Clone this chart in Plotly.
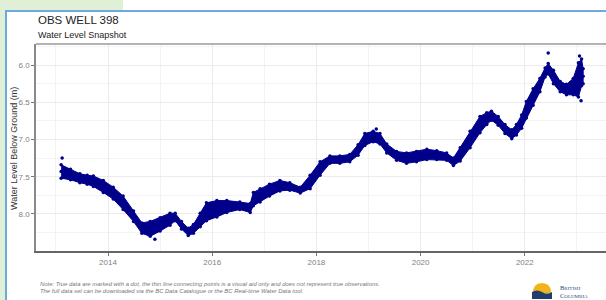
import plotly.graph_objects as go

# ---------------- data ----------------
years = [2013.10, 2013.28, 2013.46, 2013.60, 2013.72, 2013.91, 2014.10, 2014.29, 2014.49, 2014.65,
         2014.81, 2015.00, 2015.19, 2015.29, 2015.41, 2015.54, 2015.64, 2015.77, 2015.89, 2016.09,
         2016.28, 2016.53, 2016.73, 2016.79, 2016.92, 2017.10, 2017.30, 2017.49, 2017.69, 2017.88,
         2018.07, 2018.26, 2018.45, 2018.64, 2018.80, 2018.93, 2019.09, 2019.22, 2019.35, 2019.54,
         2019.73, 2019.92, 2020.12, 2020.31, 2020.50, 2020.63, 2020.76, 2020.95, 2021.14, 2021.27,
         2021.36, 2021.49, 2021.62, 2021.75, 2021.84, 2021.94, 2022.03, 2022.16, 2022.29, 2022.39,
         2022.45, 2022.55, 2022.68, 2022.80, 2022.93, 2023.03, 2023.09, 2023.12]
level_mid = [7.43, 7.47, 7.52, 7.54, 7.56, 7.63, 7.72, 7.85, 8.03, 8.19,
             8.20, 8.14, 8.07, 8.04, 8.15, 8.24, 8.20, 8.08, 7.97, 7.93,
             7.90, 7.89, 7.92, 7.80, 7.75, 7.68, 7.62, 7.63, 7.68, 7.57,
             7.39, 7.27, 7.27, 7.25, 7.14, 7.00, 6.96, 6.99, 7.12, 7.22,
             7.25, 7.23, 7.20, 7.21, 7.23, 7.30, 7.20, 7.00, 6.80, 6.72,
             6.68, 6.75, 6.86, 6.93, 6.87, 6.76, 6.60, 6.43, 6.27, 6.10,
             6.05, 6.16, 6.29, 6.33, 6.29, 6.20, 6.10, 6.15]
level_top = [7.34, 7.40, 7.46, 7.48, 7.49, 7.55, 7.64, 7.76, 7.96, 8.12,
             8.10, 8.05, 7.99, 7.99, 8.10, 8.19, 8.14, 7.99, 7.85, 7.82,
             7.82, 7.84, 7.86, 7.71, 7.66, 7.60, 7.55, 7.58, 7.64, 7.48,
             7.30, 7.22, 7.22, 7.20, 7.07, 6.92, 6.89, 6.92, 7.06, 7.16,
             7.18, 7.16, 7.13, 7.15, 7.18, 7.25, 7.11, 6.89, 6.69, 6.64,
             6.62, 6.69, 6.80, 6.87, 6.80, 6.67, 6.49, 6.32, 6.18, 6.04,
             5.98, 6.07, 6.22, 6.26, 6.18, 5.97, 5.92, 6.05]
level_bottom = [7.52, 7.54, 7.58, 7.60, 7.63, 7.71, 7.80, 7.94, 8.10, 8.26,
                8.30, 8.23, 8.15, 8.09, 8.20, 8.29, 8.26, 8.17, 8.09, 8.04,
                7.98, 7.94, 7.98, 7.89, 7.84, 7.76, 7.69, 7.68, 7.72, 7.66,
                7.48, 7.32, 7.32, 7.30, 7.21, 7.08, 7.03, 7.06, 7.18, 7.28,
                7.32, 7.30, 7.27, 7.27, 7.28, 7.35, 7.29, 7.11, 6.91, 6.80,
                6.74, 6.81, 6.92, 6.99, 6.94, 6.85, 6.71, 6.54, 6.36, 6.16,
                6.12, 6.25, 6.36, 6.40, 6.40, 6.43, 6.28, 6.25]
outlier_years = [2013.12, 2014.90, 2019.15, 2022.45, 2023.05, 2023.08]
outlier_levels = [7.25, 8.34, 6.86, 5.84, 5.88, 6.48]

x_ticks = [2014, 2016, 2018, 2020, 2022]
x_ticklabels = ["2014", "2016", "2018", "2020", "2022"]
x_minor = [2013, 2015, 2017, 2019, 2021, 2023]
y_ticks = [6.0, 6.5, 7.0, 7.5, 8.0]
y_ticklabels = ["6.0", "6.5", "7.0", "7.5", "8.0"]
y_minor = [5.75, 6.25, 6.75, 7.25, 7.75, 8.25]

title = "OBS WELL 398"
subtitle = "Water Level Snapshot"
y_title = "Water Level Below Ground (m)"
note1 = "Note: True data are marked with a dot, the thin line connecting points is a visual aid only and does not represent true observations."
note2 = "The full data set can be downloaded via the BC Data Catalogue or the BC Real-time Water Data tool."

# ---------------- layout geometry (pixels) ----------------
W, H = 606, 300
L, R, T, B = 36, 0, 44, 49
PW, PH = W - L - R, H - T - B


def px(x):
    return (x - L) / PW


def py(y):
    return (H - B - y) / PH


NAVY = "#00008B"
FONT = "Liberation Sans, Arial, sans-serif"

fig = go.Figure()

# band of observations
fig.add_trace(go.Scatter(
    x=years + years[::-1], y=level_top + level_bottom[::-1],
    fill="toself", fillcolor=NAVY, line=dict(color=NAVY, width=1),
    mode="lines", hoverinfo="skip", showlegend=False))
fig.add_trace(go.Scatter(x=years, y=level_mid, mode="lines+markers",
                         line=dict(color=NAVY, width=0.6),
                         marker=dict(color=NAVY, size=3.5), showlegend=False))
for arr in (level_top, level_bottom):
    fig.add_trace(go.Scatter(x=years, y=arr, mode="markers",
                             marker=dict(color=NAVY, size=3.5), showlegend=False))
fig.add_trace(go.Scatter(x=outlier_years, y=outlier_levels, mode="markers",
                         marker=dict(color=NAVY, size=3.5), showlegend=False))

shapes = [
    # green page background pieces
    dict(type="rect", xref="paper", yref="paper", x0=px(-5), x1=px(6), y0=py(-5), y1=py(310),
         fillcolor="#e0f0d6", line=dict(width=0), layer="below"),
    dict(type="rect", xref="paper", yref="paper", x0=px(-5), x1=px(123), y0=py(-5), y1=py(11),
         fillcolor="#e0f0d6", line=dict(width=0), layer="below"),
    # white card with blue border
    dict(type="rect", xref="paper", yref="paper", x0=px(6), x1=px(700), y0=py(11), y1=py(400),
         fillcolor="white", line=dict(color="#6fa8dc", width=2), layer="below"),
    # top panel border
    dict(type="line", xref="paper", yref="paper", x0=0, x1=1, y0=1, y1=1,
         line=dict(color="#9a9a9a", width=1.5)),
    # BC logo: sun and water
    dict(type="path", xref="paper", yref="paper",
         path=f"M {px(533)},{py(293)} Q {px(533)},{py(283)} {px(542)},{py(283)} "
              f"Q {px(551)},{py(283)} {px(551)},{py(293)} Z",
         fillcolor="#f2b519", line=dict(width=0)),
    dict(type="path", xref="paper", yref="paper",
         path=f"M {px(532)},{py(292)} Q {px(537)},{py(289)} {px(542)},{py(292)} "
              f"Q {px(547)},{py(295)} {px(552)},{py(292)} L {px(552)},{py(299)} L {px(532)},{py(299)} Z",
         fillcolor="#1f3d6d", line=dict(width=0)),
]

annotations = [
    dict(text=title, x=px(36), y=py(20), xref="paper", yref="paper", xanchor="left",
         yanchor="middle", showarrow=False, font=dict(family=FONT, size=11.5, color="#222222")),
    dict(text=subtitle, x=px(36), y=py(34.5), xref="paper", yref="paper", xanchor="left",
         yanchor="middle", showarrow=False, font=dict(family=FONT, size=9, color="#222222")),
    dict(text=y_title, x=px(14), y=py(149), xref="paper", yref="paper", textangle=-90,
         xanchor="center", yanchor="middle", showarrow=False,
         font=dict(family=FONT, size=9, color="#333333")),
    dict(text="<i>" + note1 + "</i>", x=px(38), y=py(284), xref="paper", yref="paper",
         xanchor="left", yanchor="middle", showarrow=False,
         font=dict(family=FONT, size=5.9, color="#777777")),
    dict(text="<i>" + note2 + "</i>", x=px(38), y=py(290.6), xref="paper", yref="paper",
         xanchor="left", yanchor="middle", showarrow=False,
         font=dict(family=FONT, size=5.9, color="#777777")),
    dict(text="B<span style='font-size:5px'>RITISH</span><br>C<span style='font-size:5px'>OLUMBIA</span>",
         x=px(558), y=py(291), xref="paper", yref="paper", xanchor="left", yanchor="middle",
         align="left", showarrow=False,
         font=dict(family="Liberation Serif, serif", size=6.5, color="#2b4a7a")),
]

fig.update_layout(
    width=W, height=H, margin=dict(l=L, r=R, t=T, b=B, pad=0),
    paper_bgcolor="white", plot_bgcolor="white",
    shapes=shapes, annotations=annotations, showlegend=False,
    xaxis=dict(range=[2012.618, 2023.559], tickvals=x_ticks, ticktext=x_ticklabels,
               showgrid=True, gridcolor="#ebebeb", gridwidth=1,
               minor=dict(tickvals=x_minor, showgrid=True, gridcolor="#f3f3f3", gridwidth=1),
               showline=True, linecolor="#666666", linewidth=1.5, zeroline=False,
               ticks="outside", ticklen=3, tickcolor="#777777",
               tickfont=dict(family=FONT, size=8, color="#7f7f7f")),
    yaxis=dict(range=[8.497, 5.718], tickvals=y_ticks, ticktext=y_ticklabels,
               showgrid=True, gridcolor="#ebebeb", gridwidth=1,
               minor=dict(tickvals=y_minor, showgrid=True, gridcolor="#f3f3f3", gridwidth=1),
               showline=True, linecolor="#8a8a8a", linewidth=1.5, zeroline=False,
               ticks="outside", ticklen=3, tickcolor="#777777",
               tickfont=dict(family=FONT, size=8, color="#7f7f7f")),
)

fig.write_html("out.html", config={"displayModeBar": False},
               post_script="document.body.style.margin='0';document.body.style.overflow='hidden';")
